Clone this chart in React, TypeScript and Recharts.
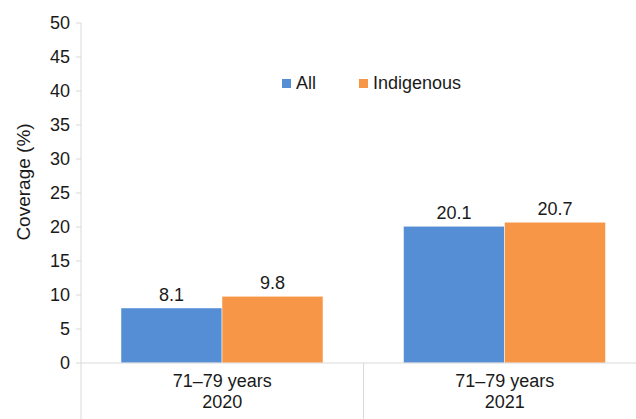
import {
  Bar,
  BarChart,
  LabelList,
  Legend,
  ReferenceLine,
  XAxis,
  YAxis,
} from 'recharts';

const ageGroups = ['71–79 years', '71–79 years'];
const years = ['2020', '2021'];
const allValues = [8.1, 20.1];
const indigenousValues = [9.8, 20.7];
const yTicks = [0, 5, 10, 15, 20, 25, 30, 35, 40, 45, 50];

const data = years.map((year, i) => ({
  name: `${ageGroups[i]}\n${year}`,
  all: allValues[i],
  indigenous: indigenousValues[i],
}));

const FONT = '"Liberation Sans", Arial, Helvetica, sans-serif';
const TEXT = '#1a1a1a';
const AXIS = '#d9d9d9';
const BLUE = '#558ed5';
const ORANGE = '#f79646';

// eslint-disable-next-line @typescript-eslint/no-explicit-any
function CategoryTick(props: any) {
  const { x, y, payload } = props;
  const [top, bottom] = String(payload.value).split('\n');
  return (
    <text x={x} y={y} textAnchor="middle" fill={TEXT} fontSize={18} fontFamily={FONT}>
      <tspan x={x} dy={24}>{top}</tspan>
      <tspan x={x} dy={21}>{bottom}</tspan>
    </text>
  );
}

function LegendContent() {
  const items = [
    { label: 'All', color: BLUE },
    { label: 'Indigenous', color: ORANGE },
  ];
  return (
    <div style={{ display: 'flex', alignItems: 'center', fontFamily: FONT, fontSize: 18, color: TEXT }}>
      {items.map((item, i) => (
        <div
          key={item.label}
          style={{ display: 'flex', alignItems: 'center', marginRight: i === 0 ? 43 : 0 }}
        >
          <span
            style={{ display: 'inline-block', width: 9, height: 9, background: item.color, marginRight: 5 }}
          />
          <span style={{ lineHeight: '20px' }}>{item.label}</span>
        </div>
      ))}
    </div>
  );
}

export default function App() {
  return (
    <div
      style={{
        position: 'absolute',
        left: 0,
        top: 0,
        width: 636,
        height: 419,
        overflow: 'hidden',
        background: '#fff',
      }}
    >
      <BarChart
        width={660}
        height={419}
        data={data}
        margin={{ top: 23, right: 14, left: 0, bottom: 0 }}
        barGap={0}
        style={{ fontFamily: FONT }}
      >
        <XAxis
          dataKey="name"
          height={56}
          tick={<CategoryTick />}
          tickLine={false}
          tickSize={0}
          tickMargin={0}
          axisLine={{ stroke: AXIS }}
          interval={0}
        />
        <YAxis
          width={81}
          domain={[0, 50]}
          ticks={yTicks}
          interval={0}
          tickSize={5}
          tickMargin={6}
          tick={{ fill: TEXT, fontSize: 18, fontFamily: FONT }}
          tickLine={{ stroke: AXIS }}
          axisLine={{ stroke: AXIS }}
          label={{
            content: () => (
              <text
                x={23}
                y={182}
                transform="rotate(-90 23 182)"
                textAnchor="middle"
                dominantBaseline="central"
                fill={TEXT}
                fontSize={19}
                fontFamily={FONT}
              >
                Coverage (%)
              </text>
            ),
          }}
        />
        <Legend
          layout="horizontal"
          verticalAlign="middle"
          align="center"
          wrapperStyle={{ top: 73, left: 282, width: 'auto' }}
          content={<LegendContent />}
        />
        {data.map((row) => (
          <ReferenceLine
            key={row.name}
            segment={[
              { x: row.name, y: 0 },
              { x: row.name, y: -8.3 },
            ]}
            position="start"
            ifOverflow="visible"
            stroke={AXIS}
          />
        ))}
        <Bar
          dataKey="all"
          name="All"
          fill={BLUE}
          barSize={101}
          stroke="#ffffff"
          strokeOpacity={0.5}
          isAnimationActive={false}
        >
          <LabelList dataKey="all" position="top" offset={7} fill={TEXT} fontSize={18} fontFamily={FONT} />
        </Bar>
        <Bar
          dataKey="indigenous"
          name="Indigenous"
          fill={ORANGE}
          barSize={101}
          stroke="#ffffff"
          strokeOpacity={0.5}
          isAnimationActive={false}
        >
          <LabelList dataKey="indigenous" position="top" offset={7} fill={TEXT} fontSize={18} fontFamily={FONT} />
        </Bar>
      </BarChart>
    </div>
  );
}
